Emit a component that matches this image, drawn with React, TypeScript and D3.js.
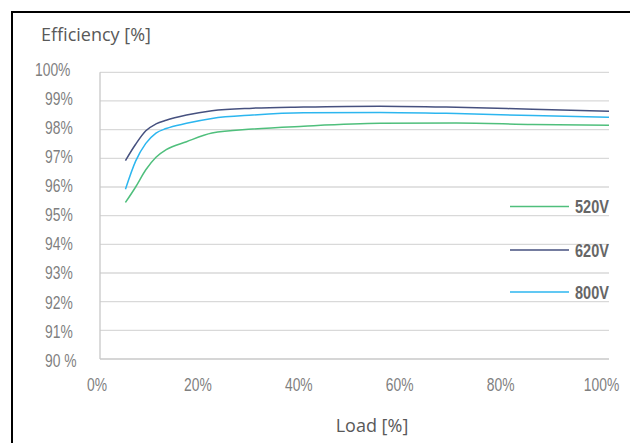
import React from "react";
import * as d3 from "d3";

const loads = [5, 7, 9, 11, 13, 17, 22, 30, 40, 55, 70, 85, 100];
const eff520 = [95.46, 96.0, 96.6, 97.04, 97.3, 97.58, 97.88, 98.02, 98.12, 98.22, 98.23, 98.18, 98.15];
const eff620 = [96.92, 97.49, 97.96, 98.2, 98.33, 98.51, 98.66, 98.75, 98.79, 98.82, 98.78, 98.71, 98.64];
const eff800 = [95.92, 96.9, 97.52, 97.88, 98.04, 98.22, 98.39, 98.51, 98.59, 98.6, 98.56, 98.49, 98.43];

const seriesNames = ["520V", "620V", "800V"];
const seriesColors = ["#4fbf7c", "#46517f", "#2cb6ef"];
const xTicks = [0, 20, 40, 60, 80, 100];
const xTickLabels = ["0%", "20%", "40%", "60%", "80%", "100%"];
const yTicks = [90, 91, 92, 93, 94, 95, 96, 97, 98, 99, 100];
const yTickLabels = ["90 %", "91%", "92%", "93%", "94%", "95%", "96%", "97%", "98%", "99%", "100%"];

const W = 630;
const H = 443;

export default function App() {
  const x = d3.scaleLinear().domain([0, 100]).range([100, 609]);
  const y = d3.scaleLinear().domain([90, 100]).range([359, 72.3]);
  const xLab = d3.scaleLinear().domain([0, 100]).range([97, 601.5]);
  const yLab = d3.scaleLinear().domain([90, 100]).range([366.7, 76]);

  const series = [eff520, eff620, eff800];
  const line = d3
    .line<number>()
    .x((_, i) => x(loads[i]))
    .y((d) => y(d))
    .curve(d3.curveMonotoneX);

  const tickFont = "'Liberation Sans', Arial, sans-serif";
  const sx = 0.77;
  const legendY = [206.5, 250, 292];

  return (
    <svg
      width={W}
      height={H}
      style={{ position: "absolute", left: 0, top: 0, background: "#fff" }}
    >
      <rect x={0} y={0} width={W} height={H} fill="#fff" />
      {/* frame */}
      <line x1={12} x2={W} y1={12} y2={12} stroke="#000" strokeWidth={2} />
      <line x1={12} x2={12} y1={11} y2={H} stroke="#000" strokeWidth={2} />

      {/* gridlines */}
      {yTicks.map((t) => (
        <line
          key={t}
          x1={x(0)}
          x2={x(100)}
          y1={y(t)}
          y2={y(t)}
          stroke={t === 90 ? "#c8c8c8" : "#d9d9d9"}
          strokeWidth={1.3}
        />
      ))}
      <line x1={x(0)} x2={x(0)} y1={y(100)} y2={y(90)} stroke="#c8c8c8" strokeWidth={1.3} />

      {/* y labels */}
      {yTicks.map((t, i) => (
        <text
          key={t}
          transform={`translate(${t === 100 ? 35 : 45},${yLab(t)}) scale(${sx},1)`}
          fontFamily={tickFont}
          fontSize={18}
          fill="#7f7f7f"
        >
          {yTickLabels[i]}
        </text>
      ))}

      {/* x labels */}
      {xTicks.map((t, i) => (
        <text
          key={t}
          transform={`translate(${xLab(t)},390.5) scale(${sx},1)`}
          textAnchor="middle"
          fontFamily={tickFont}
          fontSize={18}
          fill="#7f7f7f"
        >
          {xTickLabels[i]}
        </text>
      ))}

      {/* series */}
      {series.map((s, i) => (
        <path key={i} d={line(s) || ""} fill="none" stroke={seriesColors[i]} strokeWidth={1.5} />
      ))}

      {/* legend */}
      {seriesNames.map((n, i) => (
        <g key={n}>
          <line x1={510} x2={569} y1={legendY[i]} y2={legendY[i]} stroke={seriesColors[i]} strokeWidth={1.5} />
          <text
            transform={`translate(575,${legendY[i] + 6.5}) scale(0.83,1)`}
            fontFamily={tickFont}
            fontWeight="bold"
            fontSize={17.5}
            fill="#666666"
          >
            {n}
          </text>
        </g>
      ))}

      {/* titles */}
      <text x={41} y={40.5} fontFamily="'Open Sans', sans-serif" fontSize={18} fill="#595959">
        Efficiency [%]
      </text>
      <text x={372} y={432} textAnchor="middle" fontFamily="'Open Sans', sans-serif" fontSize={18} fill="#595959">
        Load [%]
      </text>
    </svg>
  );
}
